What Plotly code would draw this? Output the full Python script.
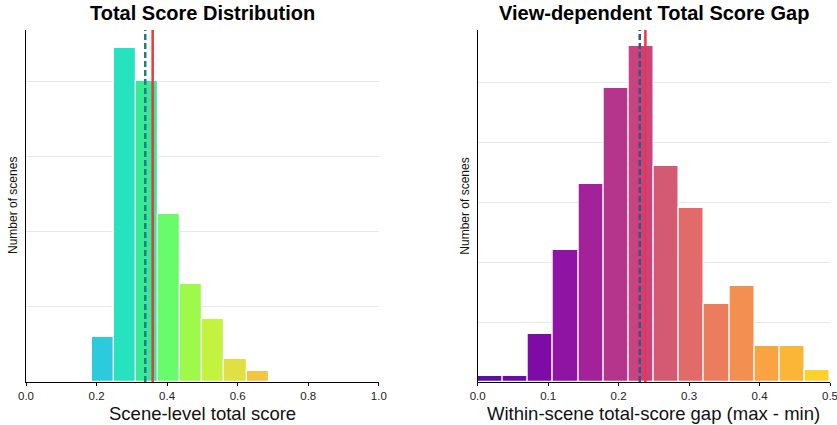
import plotly.graph_objects as go

# ---- data ----
score_bin_start = 0.1875
score_bin_width = 0.0625
score_counts = [30, 222, 200, 112, 65, 42, 15, 7]
score_colors = ["#2BCADC", "#26E2BE", "#38EA95", "#68FB6C", "#9EF94A", "#C3F23F", "#DFE042", "#F3C542"]
score_median = 0.338
score_mean = 0.359

gap_bin_start = 0.0
gap_bin_width = 0.5 / 14
gap_counts = [1, 1, 8, 22, 33, 49, 56, 36, 29, 13, 16, 6, 6, 2]
gap_colors = ["#5A10A2", "#6A0DA8", "#7E0BA6", "#8F14A3", "#A3229A", "#B5358D", "#C8437F",
              "#D45A74", "#E16B68", "#EC7C5E", "#F48F52", "#F9A343", "#FBB637", "#FBD22C"]
gap_median = 0.230
gap_mean = 0.238

x_ticks_left = [0.0, 0.2, 0.4, 0.6, 0.8, 1.0]
x_ticks_right = [0.0, 0.1, 0.2, 0.3, 0.4, 0.5]

titles = ["Total Score Distribution", "View-dependent Total Score Gap"]
x_titles = ["Scene-level total score", "Within-scene total-score gap (max - min)"]
y_title = "Number of scenes"

FONT = "Liberation Sans, Arial, sans-serif"

score_centers = [score_bin_start + (i + 0.5) * score_bin_width for i in range(len(score_counts))]
gap_centers = [gap_bin_start + (i + 0.5) * gap_bin_width for i in range(len(gap_counts))]

fig = go.Figure()
fig.add_trace(go.Bar(x=score_centers, y=score_counts, width=[score_bin_width] * len(score_counts),
                     marker=dict(color=score_colors, line=dict(color="white", width=1.2)),
                     xaxis="x", yaxis="y", showlegend=False, hoverinfo="x+y"))
fig.add_trace(go.Bar(x=gap_centers, y=gap_counts, width=[gap_bin_width] * len(gap_counts),
                     marker=dict(color=gap_colors, line=dict(color="white", width=1.2)),
                     xaxis="x2", yaxis="y2", showlegend=False, hoverinfo="x+y"))

W, H = 837, 425
ml, mr, mt, mb = 26, 7, 30, 43
pw = W - ml - mr
left_dom = [0, 352.8 / pw]
right_dom = [(477.7 - ml) / pw, 1]

axis_common = dict(showline=True, linecolor="black", linewidth=1.3, ticks="outside", ticklen=3,
                   tickcolor="black", tickfont=dict(family=FONT, size=11.5, color="#222"),
                   showgrid=False, zeroline=False, mirror=False, automargin=False,
                   ticklabeloverflow="allow")
yaxis_common = dict(showline=True, linecolor="black", linewidth=1.3, showticklabels=False, ticks="",
                    showgrid=True, gridcolor="#E8E8E8", gridwidth=1, zeroline=False, automargin=False)

fig.update_layout(
    width=W, height=H, margin=dict(l=ml, r=mr, t=mt, b=mb, autoexpand=False),
    plot_bgcolor="white", paper_bgcolor="white", bargap=0,
    xaxis=dict(domain=left_dom, range=[0, 1], tickvals=x_ticks_left,
               ticktext=[f"{v:.1f}" for v in x_ticks_left], anchor="y", **axis_common),
    yaxis=dict(domain=[0, 1], range=[0, 234], dtick=50, anchor="x", **yaxis_common),
    xaxis2=dict(domain=right_dom, range=[0, 0.5], tickvals=x_ticks_right,
                ticktext=[f"{v:.1f}" for v in x_ticks_right], anchor="y2", **axis_common),
    yaxis2=dict(domain=[0, 1], range=[0, 58.7], dtick=10, anchor="x2", **yaxis_common),
    font=dict(family=FONT),
)

# reference lines
for xr, yr, med, mean, dcol in [("x", "y", score_median, score_mean, "#1F7F86"),
                                ("x2", "y2", gap_median, gap_mean, "#3D5478")]:
    fig.add_shape(type="line", xref=xr, yref=yr + " domain", x0=med, x1=med, y0=0, y1=1,
                  line=dict(color=dcol, width=2.5, dash="6px,3px"))
    fig.add_shape(type="line", xref=xr, yref=yr + " domain", x0=mean, x1=mean, y0=0, y1=1,
                  line=dict(color="#E63946", width=2.5))

# titles and axis titles
for i, (xr, yr) in enumerate([("x", "y"), ("x2", "y2")]):
    fig.add_annotation(text=f"<b>{titles[i]}</b>", xref=xr + " domain", yref="paper",
                       x=0.5, y=1, yanchor="bottom", yshift=4, showarrow=False,
                       font=dict(family=FONT, size=20, color="black"))
    fig.add_annotation(text=x_titles[i], xref=xr + " domain", yref="paper",
                       x=0.5, y=0, yanchor="top", yshift=-19, showarrow=False,
                       font=dict(family=FONT, size=18.5, color="#111"))
    fig.add_annotation(text=y_title, xref=xr + " domain", yref="paper", textangle=-90,
                       x=0, y=0.5, xanchor="right", xshift=-4, showarrow=False,
                       font=dict(family=FONT, size=12, color="#111"))

fig.write_html("out.html", config={"displayModeBar": False},
               post_script="document.body.style.margin='0';document.body.style.overflow='hidden';")
